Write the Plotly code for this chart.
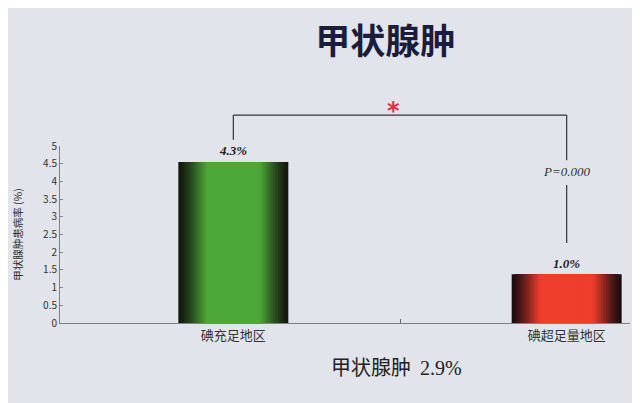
import plotly.graph_objects as go

categories = ["碘充足地区", "碘超足量地区"]
x_pos = [0, 1]
bar_heights = [4.55, 1.38]
value_labels = ["4.3%", "1.0%"]
ytick_vals = [0, 0.5, 1, 1.5, 2, 2.5, 3, 3.5, 4, 4.5, 5]
ytick_text = ["0", "0.5", "1", "1.5", "2", "2.5", "3", "3.5", "4", "4.5", "5"]
p_text = "P=0.000"
title_text = "甲状腺肿"
bottom_text = "甲状腺肿  <span style='font-family:Liberation Serif'>2.9%</span>"

# gradient styling (dark edges -> bright centre)
green_edge, green_mid = (20, 24, 16), (76, 168, 56)
red_edge, red_mid = (30, 12, 16), (240, 62, 44)
n_layers = 20
full_w = 0.33


def mix(a, b, t):
    return "rgb(%d,%d,%d)" % tuple(round(a[k] + (b[k] - a[k]) * t) for k in range(3))


fig = go.Figure()
for i in range(n_layers):
    frac = i / (n_layers - 1)
    w = full_w * (1 - frac * 0.9)
    t = min(1.0, (frac / 0.55)) ** 1.2
    fig.add_trace(go.Bar(
        x=x_pos, y=bar_heights, width=w,
        marker=dict(color=[mix(green_edge, green_mid, t), mix(red_edge, red_mid, t)],
                    line=dict(width=0)),
        hoverinfo="skip", showlegend=False,
    ))

bg = "#e1e4ea"
fig.update_layout(
    barmode="overlay",
    width=632, height=395,
    paper_bgcolor=bg, plot_bgcolor=bg,
    margin=dict(l=44, r=10, t=138, b=80),
    font=dict(family="Noto Sans CJK SC", color="#333"),
    title=dict(text=title_text, x=0.597, xanchor="center", y=0.914, yanchor="middle",
               font=dict(size=35, color="#1c1c3c", family="Noto Sans CJK SC", weight="bold")),
    xaxis=dict(range=[-0.52, 1.19], tickvals=x_pos, ticktext=categories, showgrid=False,
               zeroline=False, showline=True, linecolor="#808080", linewidth=1, ticks="",
               tickfont=dict(size=13, color="#333"),
               minor=dict(tickvals=[0.5], ticks="inside", ticklen=4, tickcolor="#666")),
    yaxis=dict(range=[0, 5], tickvals=ytick_vals, ticktext=ytick_text, showgrid=False,
               zeroline=False, showline=True, linecolor="#808080", linewidth=1,
               ticks="inside", ticklen=3, tickcolor="#888",
               tickfont=dict(size=10, color="#333"),
               title=dict(text="甲状腺肿患病率 (%)", font=dict(size=10.5, color="#333"), standoff=18)),
)

# value labels
for xp, h, lab in zip(x_pos, bar_heights, value_labels):
    fig.add_annotation(x=xp, y=h, text=lab, showarrow=False, yshift=11,
                       font=dict(family="Liberation Serif", size=13, color="#222",
                                 style="italic", weight="bold"))

# significance bracket
top_paper = 1.175
line_style = dict(color="#333", width=1.2)
fig.add_shape(type="line", xref="x", yref="paper", x0=x_pos[0], x1=x_pos[1], y0=top_paper, y1=top_paper, line=line_style)
fig.add_shape(type="line", xref="x", yref="paper", x0=x_pos[0], x1=x_pos[0], y0=top_paper, y1=1.035, line=line_style)
fig.add_shape(type="line", xref="x", yref="paper", x0=x_pos[1], x1=x_pos[1], y0=top_paper, y1=0.92, line=line_style)
fig.add_shape(type="line", xref="x", yref="y", x0=x_pos[1], x1=x_pos[1], y0=3.9, y1=2.26, line=line_style)
fig.add_annotation(x=x_pos[1], y=4.29, xref="x", yref="y", text=p_text, showarrow=False,
                   font=dict(family="Liberation Serif", size=13, color="#333", style="italic"))
fig.add_annotation(x=0.48, y=1.29, xref="x", yref="paper", text="*", showarrow=False,
                   font=dict(family="DejaVu Sans", size=24, color="#e03048", weight="bold"))

fig.add_annotation(x=0.59, y=-0.34, xref="paper", yref="paper", text=bottom_text, showarrow=False,
                   font=dict(family="Noto Sans CJK SC", size=20, color="#222"))

fig.write_html("out.html")
